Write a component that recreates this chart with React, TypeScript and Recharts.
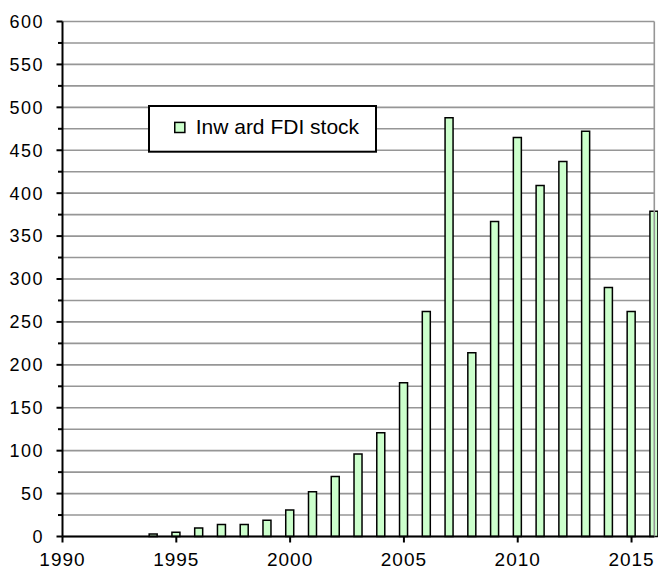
import React from 'react';
import { BarChart, Bar, XAxis, YAxis, CartesianGrid, ReferenceLine, Legend } from 'recharts';

const years = [1994, 1995, 1996, 1997, 1998, 1999, 2000, 2001, 2002, 2003, 2004, 2005, 2006, 2007, 2008, 2009, 2010, 2011, 2012, 2013, 2014, 2015, 2016];
const inwardFdi = [3, 5, 10, 14, 14, 19, 31, 52, 70, 96, 121, 179, 262, 488, 214, 367, 465, 409, 437, 472, 290, 262, 379];
const xTicks = [1990, 1995, 2000, 2005, 2010, 2015];
const yTicks = [0, 25, 50, 75, 100, 125, 150, 175, 200, 225, 250, 275, 300, 325, 350, 375, 400, 425, 450, 475, 500, 525, 550, 575, 600];
const seriesName = 'Inw ard FDI stock';

const data = years.map((y, i) => ({ year: y, fdi: inwardFdi[i] }));

const FONT = '"Liberation Sans", Arial, sans-serif';
const Y_TICK_SIZE = 6;
const Y_TICK_MARGIN = 12.5;

const YTick = (props: any) => {
  const { x, y, payload } = props;
  const major = payload.value % 50 === 0;
  const axisX = x + Y_TICK_SIZE + Y_TICK_MARGIN;
  return (
    <g>
      <line x1={axisX - (major ? 6 : 4.5)} x2={axisX} y1={y} y2={y} stroke="#000" strokeWidth={2} />
      {major && (
        <text x={x} y={y} dy={6.4} textAnchor="end" fontFamily={FONT} fontSize={18} letterSpacing={1.5} fill="#000">
          {payload.value}
        </text>
      )}
    </g>
  );
};

const XTick = (props: any) => {
  const { x, y, payload } = props;
  return (
    <text x={x} y={y} dy={10.5} textAnchor="middle" fontFamily={FONT} fontSize={19} letterSpacing={1} fill="#000">
      {payload.value}
    </text>
  );
};

const LegendBox = (props: any) => {
  const item = props.payload && props.payload[0];
  return (
    <svg width={229} height={48} style={{ display: 'block' }}>
      <rect x={1} y={1} width={227} height={45.7} fill="#fff" stroke="#000" strokeWidth={2} />
      <rect x={26.75} y={17.4} width={10.1} height={10.1} fill="#ccffcc" stroke="#000" strokeWidth={1.5} />
      <text x={47.7} y={29} fontFamily={FONT} fontSize={21} fill="#000">
        {item ? item.value : seriesName}
      </text>
    </svg>
  );
};

export default function App() {
  return (
    <div style={{ position: 'absolute', left: 0, top: 0, width: 658, height: 569, background: '#fff' }}>
      <BarChart
        width={658}
        height={569}
        data={data}
        margin={{ top: 21.5, right: 3.7, bottom: 0, left: 0 }}
      >
        <CartesianGrid vertical={false} stroke="#969696" strokeWidth={1.6} />
        <ReferenceLine x={2016} stroke="#969696" strokeWidth={1.6} />
        <XAxis
          dataKey="year"
          type="number"
          domain={[1990, 2016]}
          ticks={xTicks}
          allowDecimals={false}
          height={32.5}
          axisLine={{ stroke: '#000', strokeWidth: 2 }}
          tickLine={{ stroke: '#000', strokeWidth: 2 }}
          tickSize={6}
          tickMargin={12.5}
          tick={<XTick />}
          interval={0}
        />
        <YAxis
          type="number"
          domain={[0, 600]}
          ticks={yTicks}
          width={62.5}
          axisLine={{ stroke: '#000', strokeWidth: 2 }}
          tickLine={false}
          tickSize={Y_TICK_SIZE}
          tickMargin={Y_TICK_MARGIN}
          tick={<YTick />}
          interval={0}
        />
        <Legend
          layout="vertical"
          align="center"
          verticalAlign="middle"
          content={<LegendBox />}
          wrapperStyle={{ left: 148.3, top: 105, width: 229, height: 48 }}
        />
        <Bar
          dataKey="fdi"
          name={seriesName}
          fill="#ccffcc"
          stroke="#000"
          strokeWidth={1.5}
          barSize={8}
          isAnimationActive={false}
        />
      </BarChart>
    </div>
  );
}
